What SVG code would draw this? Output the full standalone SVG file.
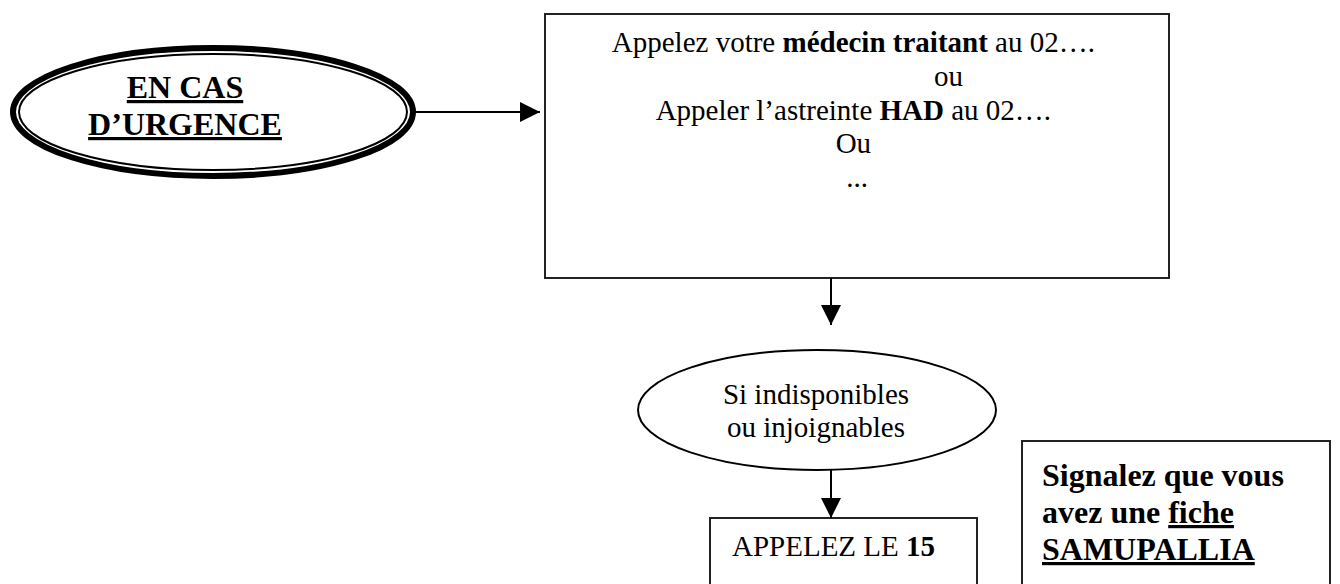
<svg xmlns="http://www.w3.org/2000/svg" width="1340" height="584" viewBox="0 0 1340 584">
<style>
.t{font-family:"Liberation Serif","Times New Roman",serif;fill:#000}
.r{font-size:29px}
.b{font-weight:bold}
.box{fill:#fff;stroke:#222;stroke-width:2}
.conn{stroke:#000;stroke-width:2;fill:none}
</style>
<defs>
<marker id="ah" markerUnits="userSpaceOnUse" markerWidth="20" markerHeight="20" refX="20" refY="10" orient="auto">
<path d="M0,0 L20,10 L0,20 Z" fill="#000"/>
</marker>
</defs>
<rect width="1340" height="584" fill="#fff"/>
<g id="urgence">
<ellipse cx="213" cy="112" rx="200" ry="64" fill="#fff" stroke="#000" stroke-width="6"/>
<ellipse cx="213" cy="112" rx="194" ry="58" fill="none" stroke="#000" stroke-width="2"/>
<text class="t b" font-size="32" text-anchor="middle" text-decoration="underline"><tspan x="185" y="98">EN CAS</tspan><tspan x="185" y="135">D’URGENCE</tspan></text>
</g>
<g id="appelez">
<rect class="box" x="545" y="14" width="624" height="264"/>
<text class="t r" text-anchor="middle">
<tspan x="857" y="52">Appelez votre <tspan class="b">médecin traitant</tspan> au 02….</tspan>
<tspan x="952" y="86">ou</tspan>
<tspan x="857" y="120">Appeler l’astreinte <tspan class="b">HAD</tspan> au 02….</tspan>
<tspan x="857" y="153">Ou</tspan>
<tspan x="857" y="187">...</tspan>
</text>
</g>
<g id="indisponibles">
<ellipse cx="817" cy="410" rx="179" ry="60" fill="#fff" stroke="#000" stroke-width="2"/>
<text class="t r" text-anchor="middle"><tspan x="816" y="404">Si indisponibles</tspan><tspan x="816" y="437">ou injoignables</tspan></text>
</g>
<g id="appelez15">
<rect class="box" x="710" y="518" width="267" height="80"/>
<text class="t r" x="732" y="556">APPELEZ LE <tspan class="b">15</tspan></text>
</g>
<g id="signalez">
<rect class="box" x="1022" y="441" width="308" height="160"/>
<text class="t b" font-size="32"><tspan x="1042" y="486">Signalez que vous</tspan><tspan x="1042" y="523">avez une <tspan text-decoration="underline">fiche</tspan></tspan><tspan x="1042" y="560" text-decoration="underline">SAMUPALLIA</tspan></text>
</g>
<g id="connectors">
<line class="conn" x1="415" y1="112" x2="540" y2="112" marker-end="url(#ah)"/>
<line class="conn" x1="831" y1="278" x2="831" y2="325" marker-end="url(#ah)"/>
<line class="conn" x1="831" y1="470" x2="831" y2="518" marker-end="url(#ah)"/>
</g>
</svg>
